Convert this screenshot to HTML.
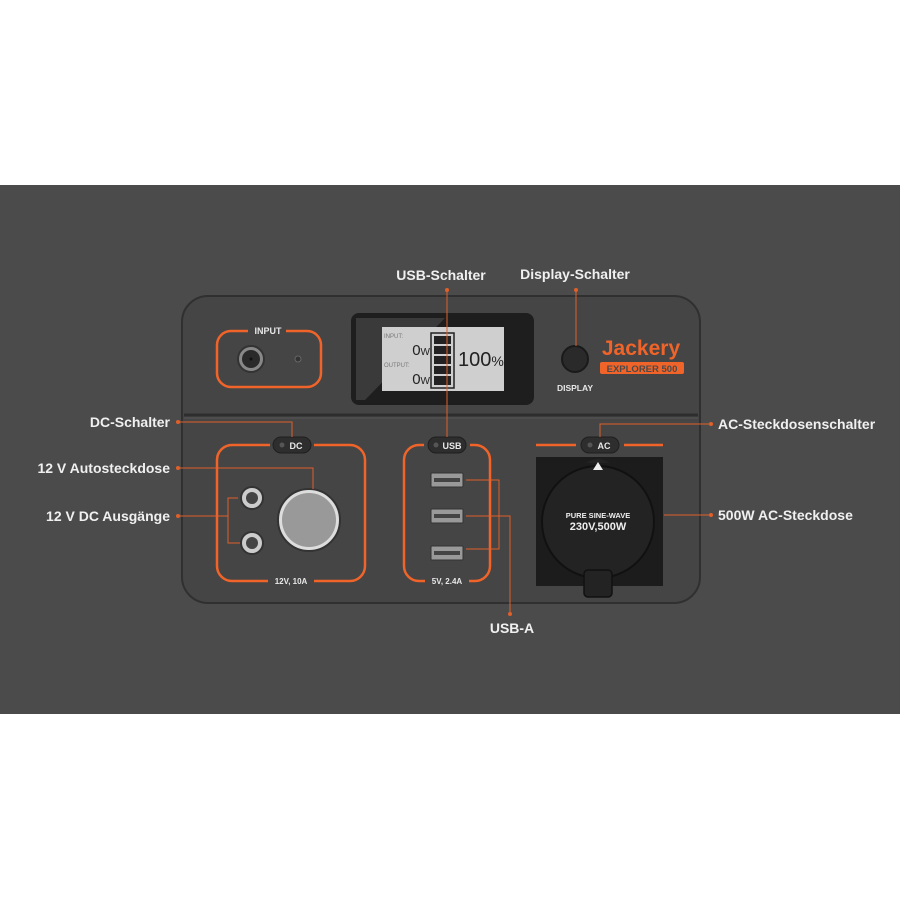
<!DOCTYPE html>
<html><head><style>
html,body{margin:0;padding:0;background:#fff;}
svg{display:block}
text{font-family:"Liberation Sans",sans-serif;}
</style></head><body>
<svg width="900" height="900" viewBox="0 0 900 900" xmlns="http://www.w3.org/2000/svg">
<rect x="0" y="0" width="900" height="900" fill="#fff"/>
<rect x="0" y="185" width="900" height="529" fill="#4b4b4b"/>
<!-- device body -->
<rect x="182" y="296" width="518" height="307" rx="26" fill="#454545" stroke="#303030" stroke-width="2"/>
<line x1="184" y1="415" x2="698" y2="415" stroke="#2e2e2e" stroke-width="3"/>
<line x1="184" y1="418" x2="698" y2="418" stroke="#555" stroke-width="1"/>
<!-- input -->
<rect x="217" y="331" width="104" height="56" rx="14" fill="none" stroke="#f0642a" stroke-width="2.5"/>
<rect x="248" y="324" width="38" height="12" fill="#454545"/>
<text x="268" y="334" fill="#e8e8e8" font-size="9" font-weight="bold" text-anchor="middle">INPUT</text>
<circle cx="251" cy="359" r="13" fill="#888" stroke="#333" stroke-width="2"/>
<circle cx="251" cy="359" r="9" fill="#2a2a2a"/>
<circle cx="251" cy="359" r="1.5" fill="#111"/>
<circle cx="298" cy="359" r="3" fill="#333" stroke="#666"/>
<!-- LCD -->
<rect x="351" y="313" width="183" height="92" rx="8" fill="#1e1e1e"/>
<polygon points="356,318 445,318 365,400 356,400" fill="#3a3a3a"/>
<rect x="382" y="327" width="122" height="64" fill="#cfcfcf"/>
<text x="384" y="338" fill="#777" font-size="6">INPUT:</text>
<text x="384" y="367" fill="#777" font-size="6">OUTPUT:</text>
<text x="430" y="355" fill="#222" font-size="15" text-anchor="end">0<tspan font-size="10">W</tspan></text>
<text x="430" y="384" fill="#222" font-size="15" text-anchor="end">0<tspan font-size="10">W</tspan></text>
<rect x="431" y="333" width="23" height="55" fill="none" stroke="#222" stroke-width="1.5"/>
<g fill="#222"><rect x="434" y="336" width="17" height="8"/><rect x="434" y="346" width="17" height="8"/><rect x="434" y="356" width="17" height="8"/><rect x="434" y="366" width="17" height="8"/><rect x="434" y="376" width="17" height="9"/></g>
<text x="458" y="366" fill="#222" font-size="20">100<tspan font-size="14">%</tspan></text>
<!-- display button -->
<circle cx="575" cy="359" r="13" fill="#2a2a2a" stroke="#1a1a1a" stroke-width="2"/>
<text x="575" y="391" fill="#e8e8e8" font-size="8.5" font-weight="bold" text-anchor="middle">DISPLAY</text>
<text x="641" y="355" fill="#f0642a" font-size="21" font-weight="bold" text-anchor="middle">Jackery</text>
<rect x="600" y="362" width="84" height="12" rx="2" fill="#f0642a"/>
<text x="642" y="372" fill="#4a4a4a" font-size="9.5" font-weight="bold" text-anchor="middle">EXPLORER 500</text>
<!-- DC box -->
<rect x="217" y="445" width="148" height="136" rx="15" fill="none" stroke="#f0642a" stroke-width="2.5"/>
<rect x="270" y="436" width="44" height="18" fill="#454545"/>
<rect x="273" y="437" width="38" height="16" rx="8" fill="#2e2e2e" stroke="#1f1f1f"/>
<circle cx="282" cy="445" r="2.5" fill="#555"/>
<text x="296" y="449" fill="#e8e8e8" font-size="9" font-weight="bold" text-anchor="middle">DC</text>
<rect x="268" y="574" width="46" height="14" fill="#454545"/>
<text x="291" y="584" fill="#e8e8e8" font-size="8" font-weight="bold" text-anchor="middle">12V, 10A</text>
<circle cx="309" cy="520" r="31" fill="#ddd" stroke="#333" stroke-width="2"/>
<circle cx="309" cy="520" r="27" fill="#999"/>
<circle cx="252" cy="498" r="11" fill="#ccc" stroke="#333" stroke-width="2"/>
<circle cx="252" cy="498" r="6" fill="#444"/>
<circle cx="252" cy="543" r="11" fill="#ccc" stroke="#333" stroke-width="2"/>
<circle cx="252" cy="543" r="6" fill="#444"/>
<!-- USB box -->
<rect x="404" y="445" width="86" height="136" rx="15" fill="none" stroke="#f0642a" stroke-width="2.5"/>
<rect x="424" y="436" width="46" height="18" fill="#454545"/>
<rect x="428" y="437" width="38" height="16" rx="8" fill="#2e2e2e" stroke="#1f1f1f"/>
<circle cx="436" cy="445" r="2.5" fill="#555"/>
<text x="452" y="449" fill="#e8e8e8" font-size="9" font-weight="bold" text-anchor="middle">USB</text>
<rect x="425" y="574" width="44" height="14" fill="#454545"/>
<text x="447" y="584" fill="#e8e8e8" font-size="8" font-weight="bold" text-anchor="middle">5V, 2.4A</text>
<g fill="#999" stroke="#333"><rect x="431" y="473" width="32" height="14" rx="1"/><rect x="431" y="509" width="32" height="14" rx="1"/><rect x="431" y="546" width="32" height="14" rx="1"/></g>
<g fill="#444"><rect x="434" y="478" width="26" height="4"/><rect x="434" y="514" width="26" height="4"/><rect x="434" y="551" width="26" height="4"/></g>
<!-- AC -->
<line x1="536" y1="445" x2="576" y2="445" stroke="#f0642a" stroke-width="2.5"/>
<line x1="624" y1="445" x2="663" y2="445" stroke="#f0642a" stroke-width="2.5"/>
<rect x="581" y="437" width="38" height="16" rx="8" fill="#2e2e2e" stroke="#1f1f1f"/>
<circle cx="590" cy="445" r="2.5" fill="#555"/>
<text x="604" y="449" fill="#e8e8e8" font-size="9" font-weight="bold" text-anchor="middle">AC</text>
<rect x="536" y="457" width="127" height="129" fill="#1c1c1c"/>
<circle cx="598" cy="522" r="56" fill="#232323" stroke="#111" stroke-width="2"/>
<path d="M586 463 Q598 455 610 463 Z" fill="#232323"/>
<rect x="584" y="570" width="28" height="27" rx="4" fill="#232323" stroke="#111" stroke-width="1.5"/>
<polygon points="598,462 593,470 603,470" fill="#eee"/>
<text x="598" y="518" fill="#eee" font-size="7.5" font-weight="bold" text-anchor="middle">PURE SINE-WAVE</text>
<text x="598" y="530" fill="#eee" font-size="11" font-weight="bold" text-anchor="middle">230V,500W</text>
<!-- connectors -->
<g stroke="#e0602a" stroke-width="1" fill="none">
<polyline points="447,290 447,437"/>
<polyline points="576,290 576,346"/>
<polyline points="178,422 292,422 292,437"/>
<polyline points="178,468 313,468 313,489"/>
<polyline points="178,516 228,516"/>
<polyline points="238,498 228,498 228,543 240,543"/>
<polyline points="711,424 600,424 600,437"/>
<polyline points="664,515 711,515"/>
<polyline points="466,480 499,480 499,549 466,549"/>
<polyline points="466,516 510,516 510,614"/>
</g>
<g fill="#e0602a">
<circle cx="447" cy="290" r="2"/><circle cx="576" cy="290" r="2"/>
<circle cx="178" cy="422" r="2"/><circle cx="178" cy="468" r="2"/><circle cx="178" cy="516" r="2"/>
<circle cx="711" cy="424" r="2"/><circle cx="711" cy="515" r="2"/><circle cx="510" cy="614" r="2"/>
</g>
<g fill="#f0f0f0" font-size="14" font-weight="bold">
<text x="441" y="280" text-anchor="middle">USB-Schalter</text>
<text x="575" y="279" text-anchor="middle">Display-Schalter</text>
<text x="170" y="427" text-anchor="end">DC-Schalter</text>
<text x="170" y="473" text-anchor="end">12 V Autosteckdose</text>
<text x="170" y="521" text-anchor="end">12 V DC Ausgänge</text>
<text x="718" y="429">AC-Steckdosenschalter</text>
<text x="718" y="520">500W AC-Steckdose</text>
<text x="512" y="633" text-anchor="middle">USB-A</text>
</g>
</svg>
</body></html>
